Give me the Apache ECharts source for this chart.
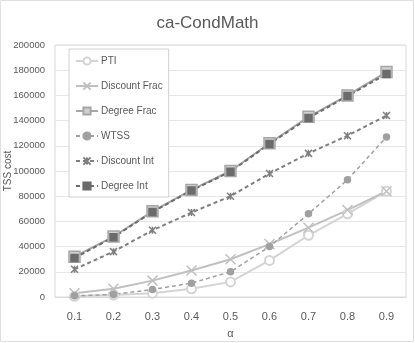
<!DOCTYPE html>
<html><head><meta charset="utf-8">
<script src="https://cdn.jsdelivr.net/npm/echarts@6/dist/echarts.min.js"></script>
<style>html,body{margin:0;padding:0;background:#fff}#c{width:415px;height:343px}</style>
</head><body><div id="c"></div>
<script>
const categories = ['0.1','0.2','0.3','0.4','0.5','0.6','0.7','0.8','0.9'];
const pti = [500,1500,3000,6500,12000,29000,49000,66000,84000];
const discountFrac = [3000,6500,13000,21000,30000,42000,55000,69000,84000];
const degreeFrac = [32000,48000,68000,85000,100000,122000,143000,160000,178500];
const wtss = [1000,2000,6000,11000,20000,40000,66000,93000,127000];
const discountInt = [22000,36000,53000,67000,80000,98000,114000,128000,144000];
const degreeInt = [31000,47500,67500,84500,99500,121500,142000,159500,177000];

const xPath = 'path://M0,0 L10,10 M10,0 L0,10';
const starPath = 'path://M0,0 L10,10 M10,0 L0,10 M5,0 L5,10';
const FONT = '"Liberation Sans", Arial, sans-serif';
const chart = echarts.init(document.getElementById('c'), null, {renderer:'canvas'});
function s(name, data, color, dashed, symbol, size, fill, width) {
  return {
    name, type:'line', data, symbol, symbolSize:size,
    lineStyle:{color, width:width||2, type: dashed ? [4,3] : 'solid'},
    itemStyle:{color: fill||color, borderColor: color, borderWidth: 1.5},
    emphasis:{disabled:true}, animation:false
  };
}
chart.setOption({
  backgroundColor:'#fff',
  title:{text:'ca-CondMath', left:'center', top:10, textStyle:{fontFamily:FONT, fontSize:17, fontWeight:'normal', color:'#595959'}},
  grid:{left:55, right:9, top:45, bottom:46, show:true, borderColor:'#d9d9d9', borderWidth:1, containLabel:false, outerBoundsMode:'none'},
  legend:{orient:'vertical', left:69, top:49, itemGap:15, itemWidth:22, itemHeight:9, padding:[7,6,6,6],
    borderColor:'#d0d0d0', borderWidth:1, backgroundColor:'#fff',
    textStyle:{fontFamily:FONT, fontSize:10, color:'#595959', padding:[0,0,0,-2]},
    data:['PTI','Discount Frac','Degree Frac','WTSS','Discount Int','Degree Int']},
  xAxis:{type:'category', data:categories, boundaryGap:true, name:'α', nameLocation:'middle', nameGap:31,
    nameTextStyle:{fontFamily:FONT, fontSize:11, color:'#595959'},
    axisLine:{lineStyle:{color:'#d9d9d9'}}, axisTick:{show:false},
    axisLabel:{fontFamily:FONT, fontSize:11, color:'#595959', margin:14}},
  yAxis:{type:'value', min:0, max:200000, interval:20000, name:'TSS cost', nameLocation:'middle', nameGap:42,
    nameMoveOverlap:false,
    nameTextStyle:{fontFamily:FONT, fontSize:10, color:'#595959'},
    axisLine:{show:false}, axisTick:{show:false},
    splitLine:{lineStyle:{color:'#e6e6e6'}},
    axisLabel:{fontFamily:FONT, fontSize:9.5, color:'#595959', margin:10, formatter:(v)=>String(v)}},
  graphic:[{type:'rect', shape:{x:0.5,y:0.5,width:413,height:341}, style:{fill:'none', stroke:'#e0e0e0'}, silent:true}],
  series:[
    s('PTI', pti, '#d4d4d4', false, 'emptyCircle', 9, '#d4d4d4'),
    s('Discount Frac', discountFrac, '#c0c0c0', false, xPath, 10, '#c0c0c0'),
    s('Degree Frac', degreeFrac, '#a6a6a6', false, 'rect', 11, '#d0d0d0'),
    s('WTSS', wtss, '#a0a0a0', true, 'circle', 6, '#a0a0a0', 1.5),
    s('Discount Int', discountInt, '#7f7f7f', true, starPath, 7, '#7f7f7f'),
    s('Degree Int', degreeInt, '#6b6b6b', true, 'rect', 7, '#6b6b6b')
  ]
});
</script></body></html>
